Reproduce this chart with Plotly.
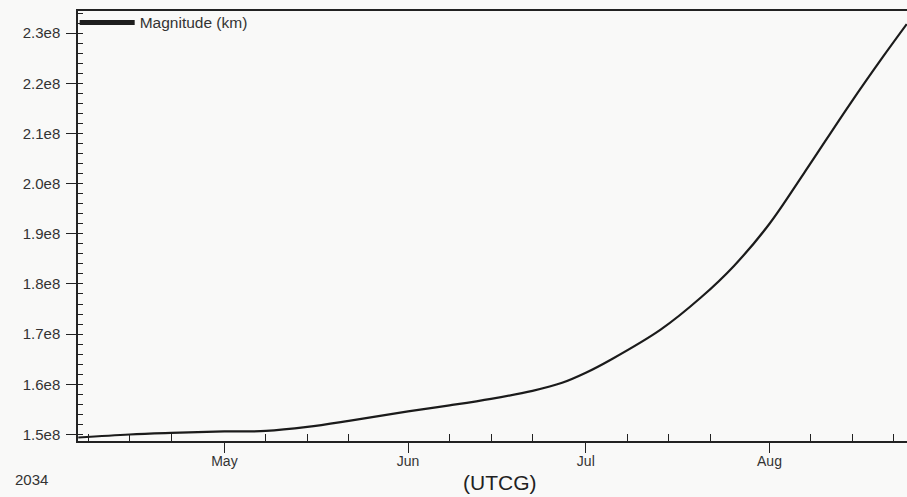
import plotly.graph_objects as go

# Epoch sample times (UTCG) and the distance magnitude in km
epochs = [
    "2034-04-06 08:00", "2034-04-15", "2034-04-22", "2034-05-01",
    "2034-05-08", "2034-05-15", "2034-05-22", "2034-06-01",
    "2034-06-08", "2034-06-15", "2034-06-22", "2034-06-27",
    "2034-07-01", "2034-07-05 05:00", "2034-07-13 15:00", "2034-07-20 10:00",
    "2034-07-26", "2034-08-01", "2034-08-06 20:00", "2034-08-14 16:00",
    "2034-08-20 04:00", "2034-08-24 04:00",
]
magnitude_km = [
    1.494e8, 1.500e8, 1.503e8, 1.506e8,
    1.507e8, 1.515e8, 1.527e8, 1.546e8,
    1.558e8, 1.571e8, 1.587e8, 1.603e8,
    1.623e8, 1.649e8, 1.709e8, 1.773e8,
    1.836e8, 1.920e8, 2.021e8, 2.160e8,
    2.253e8, 2.318e8,
]
series_name = "Magnitude (km)"

# Axis ticks
month_ticks = ["2034-05-01", "2034-06-01", "2034-07-01", "2034-08-01"]
month_labels = ["May", "Jun", "Jul", "Aug"]
week_ticks = [f"2034-{m:02d}-{d:02d}" for m in (4, 5, 6, 7, 8) for d in (8, 15, 22)]
y_ticks = [1.5e8, 1.6e8, 1.7e8, 1.8e8, 1.9e8, 2.0e8, 2.1e8, 2.2e8, 2.3e8]
y_labels = ["1.5e8", "1.6e8", "1.7e8", "1.8e8", "1.9e8", "2.0e8", "2.1e8", "2.2e8", "2.3e8"]

x_range = ["2034-04-06 07:00", "2034-08-24 05:00"]
y_range = [1.487e8, 2.344e8]

FONT = "Liberation Sans, Arial, sans-serif"
INK = "#222222"
TEXT = "#333333"
BG = "#f9f9f8"

fig = go.Figure()
# legend key drawn as a heavy bar
fig.add_trace(go.Scatter(
    x=[None], y=[None], mode="lines", name=series_name,
    line=dict(color="#1e1e1e", width=5), hoverinfo="skip",
))
fig.add_trace(go.Scatter(
    x=epochs, y=magnitude_km, mode="lines", name=series_name,
    showlegend=False,
    line=dict(color="#1b1b1b", width=2.2, shape="spline", smoothing=1.0),
))

fig.update_layout(
    width=907, height=497,
    margin=dict(l=78, r=0, t=11, b=56),
    paper_bgcolor=BG, plot_bgcolor=BG,
    font=dict(family=FONT, size=14, color=TEXT),
    showlegend=True,
    legend=dict(
        x=-0.004, y=1.012, xanchor="left", yanchor="top",
        bgcolor="rgba(0,0,0,0)", borderwidth=0,
        font=dict(family=FONT, size=15.5, color=TEXT),
        itemwidth=55, tracegroupgap=0,
    ),
    xaxis=dict(
        range=x_range, type="date",
        tickmode="array", tickvals=month_ticks, ticktext=month_labels,
        ticks="outside", ticklen=10, tickwidth=1, tickcolor=INK,
        ticklabelstandoff=-4,
        showline=True, linecolor=INK, linewidth=1.5, mirror=True,
        showgrid=False, zeroline=False,
        tickfont=dict(family=FONT, size=14, color=TEXT),
        minor=dict(tickmode="array", tickvals=week_ticks, ticks="inside",
                   ticklen=7, tickwidth=1, tickcolor=INK, showgrid=False),
    ),
    yaxis=dict(
        range=y_range,
        tickmode="array", tickvals=y_ticks, ticktext=y_labels,
        ticks="outside", ticklen=10, tickwidth=1, tickcolor=INK,
        ticklabelstandoff=3,
        showline=True, linecolor=INK, linewidth=1.5, mirror=False,
        showgrid=False, zeroline=False,
        tickfont=dict(family=FONT, size=15, color=TEXT),
        minor=dict(tick0=1.5e8, dtick=2e6, ticks="inside",
                   ticklen=5, tickwidth=1, tickcolor=INK, showgrid=False),
    ),
    # overlay axes supply the inner half of the crossing major ticks
    xaxis2=dict(
        range=x_range, type="date", overlaying="x", anchor="y", side="bottom",
        tickmode="array", tickvals=month_ticks, ticks="inside", ticklen=7,
        tickwidth=1, tickcolor=INK, showticklabels=False,
        showline=False, showgrid=False, zeroline=False,
    ),
    yaxis2=dict(
        range=y_range, overlaying="y", anchor="x", side="left",
        tickmode="array", tickvals=y_ticks, ticks="inside", ticklen=5,
        tickwidth=1, tickcolor=INK, showticklabels=False,
        showline=False, showgrid=False, zeroline=False,
    ),
    annotations=[
        dict(text="(UTCG)", xref="paper", yref="paper", x=0.509, y=-0.0965,
             xanchor="center", yanchor="middle", showarrow=False,
             font=dict(family=FONT, size=21, color="#222222")),
        dict(text="2034", xref="paper", yref="paper", x=-0.0784, y=-0.0895,
             xanchor="left", yanchor="middle", showarrow=False,
             font=dict(family=FONT, size=15, color=TEXT)),
    ],
)

fig.write_html("out.html")
